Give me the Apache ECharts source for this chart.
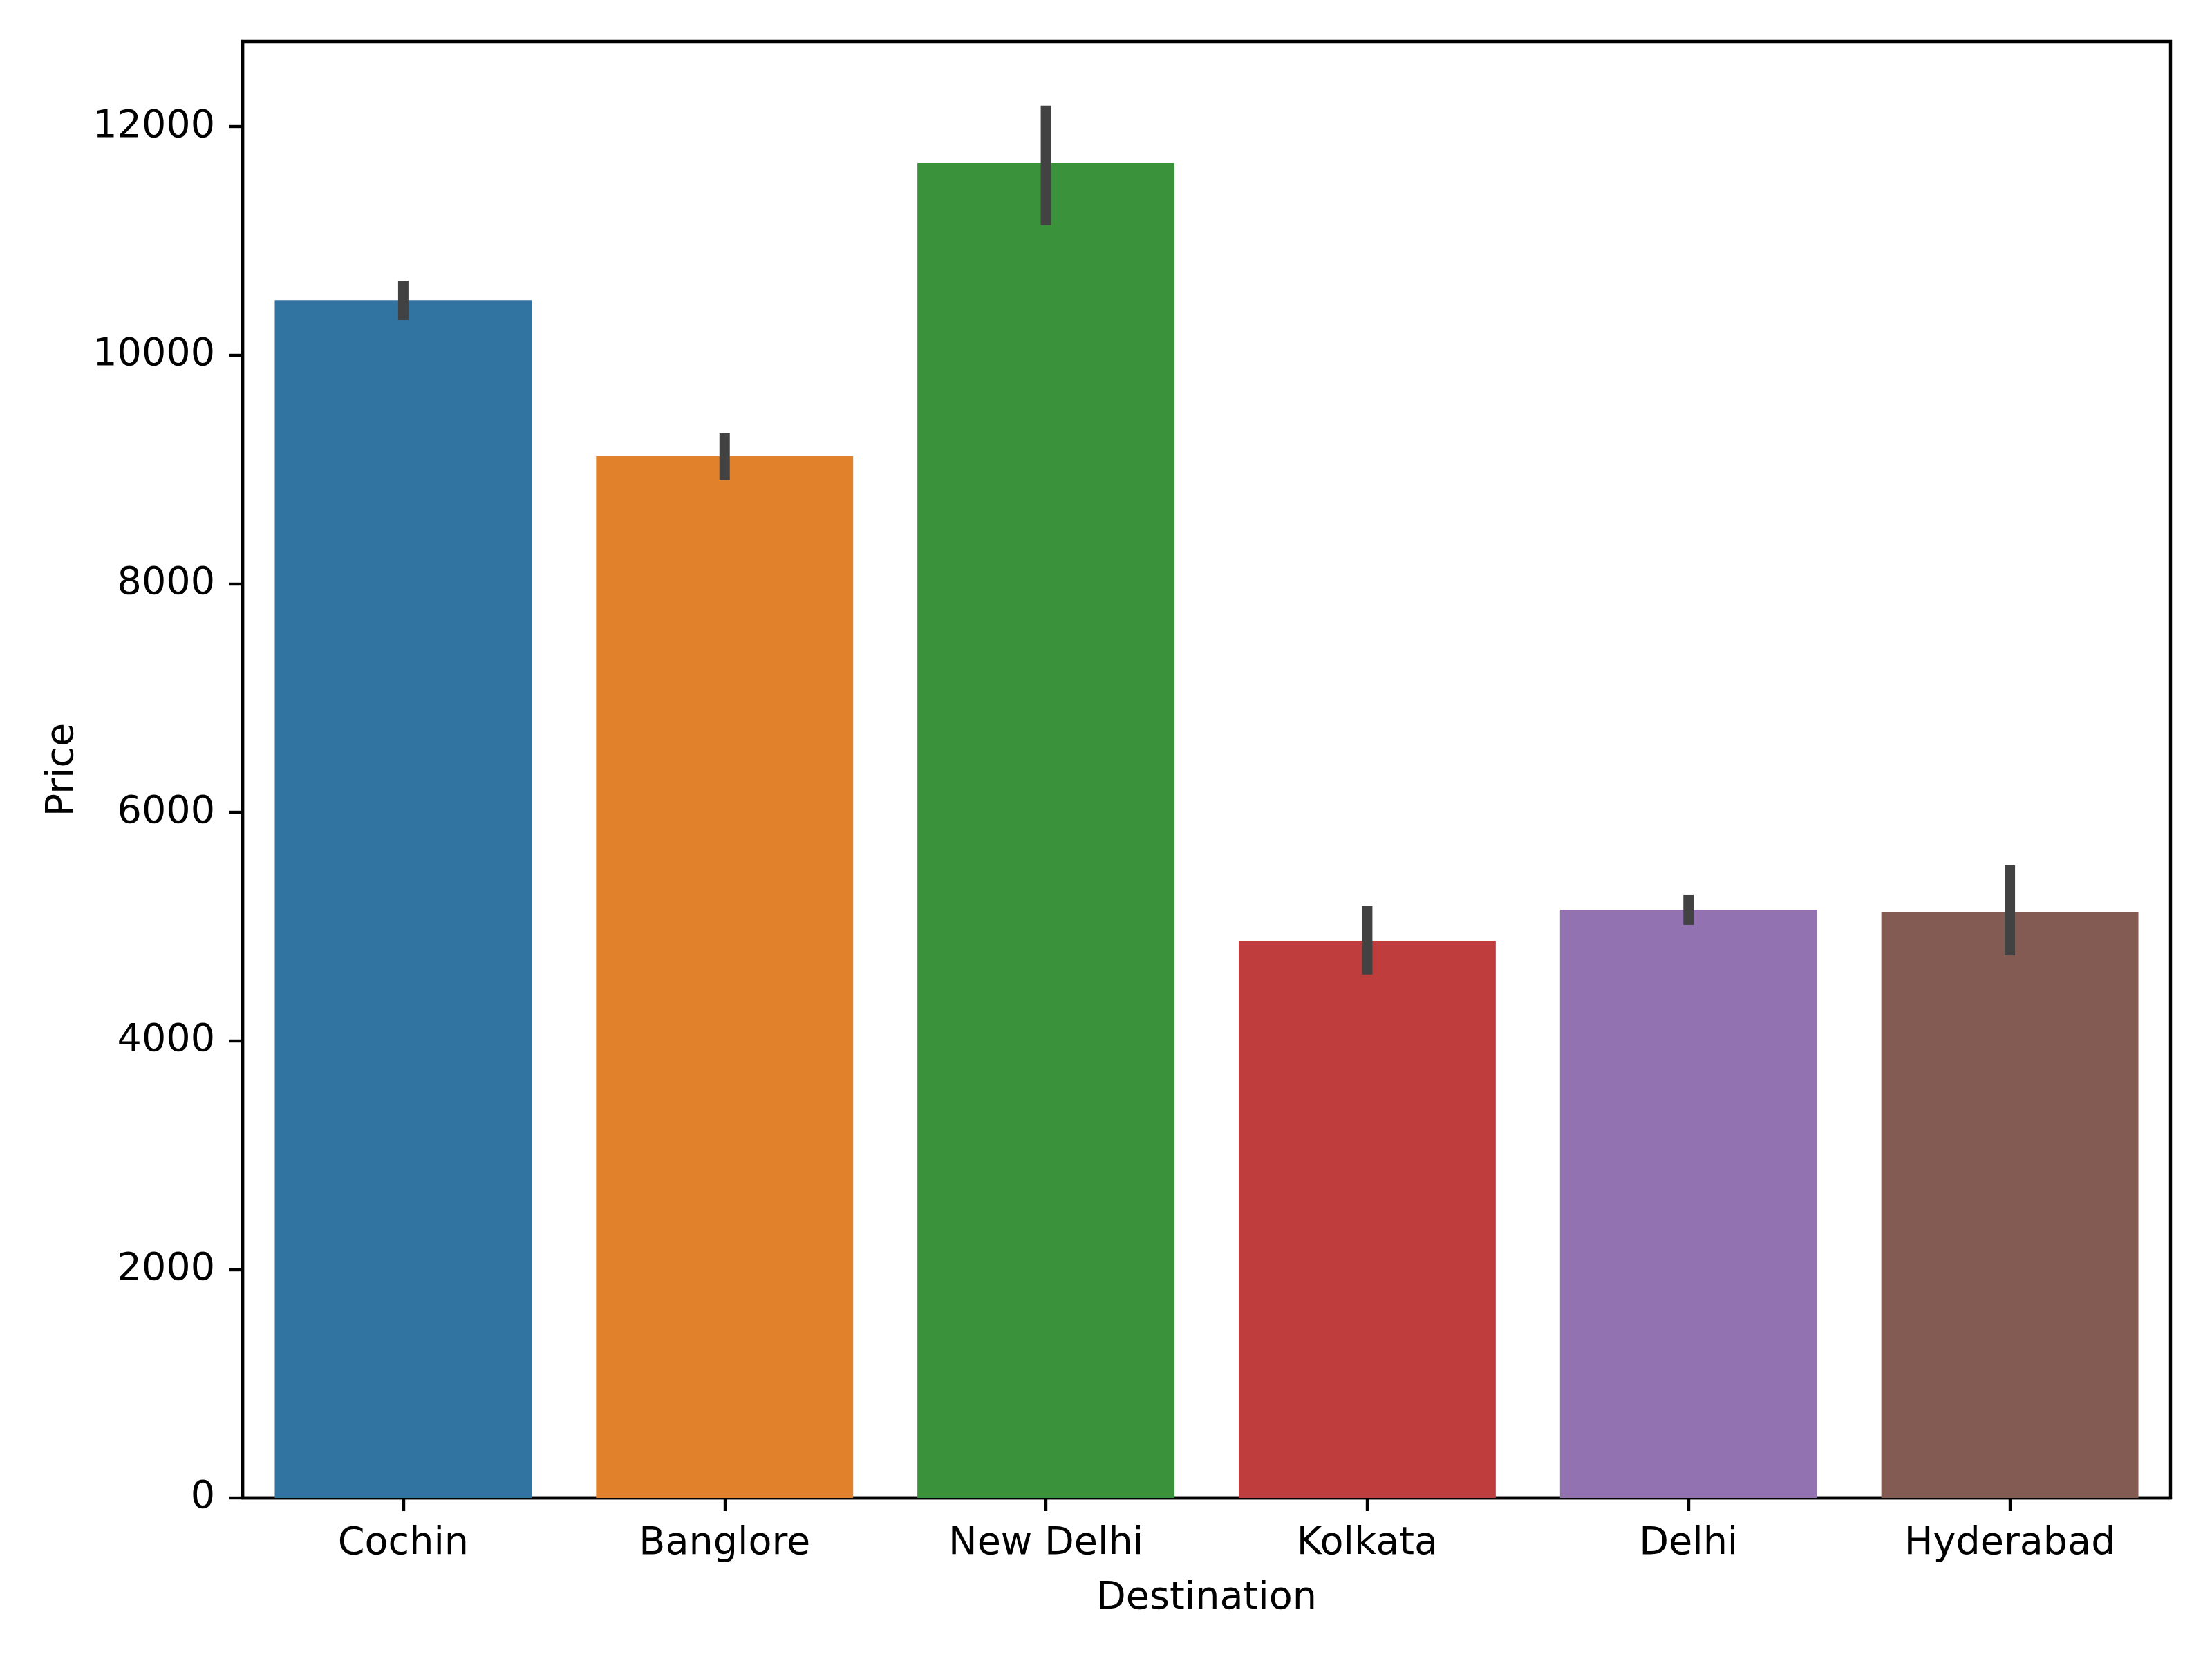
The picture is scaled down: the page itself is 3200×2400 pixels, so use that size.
<!DOCTYPE html>
<html><head><meta charset="utf-8">
<script src="https://cdn.jsdelivr.net/npm/echarts@6/dist/echarts.min.js"></script>
<style>html,body{margin:0;padding:0;background:#fff}#c{width:3200px;height:2400px}</style>
</head><body><div id="c"></div>
<script>
const categories = ['Cochin', 'Banglore', 'New Delhi', 'Kolkata', 'Delhi', 'Hyderabad'];
const prices = [10481, 9115, 11680, 4876, 5148, 5124];
const ciLow = [10307, 8904, 11137, 4580, 5015, 4748];
const ciHigh = [10652, 9315, 12184, 5178, 5275, 5535];
const barColors = ['#3274a1', '#e1812c', '#3a923a', '#c03d3e', '#9372b2', '#845b53'];
const yTicks = [0, 2000, 4000, 6000, 8000, 10000, 12000];

const FONT = 'DejaVu Sans';
const FS = 55.6;
const chart = echarts.init(document.getElementById('c'), null, {renderer: 'canvas'});
chart.setOption({
  animation: false,
  backgroundColor: '#fff',
  grid: {left: 351, right: 60, top: 60, bottom: 233, containLabel: false,
         show: true, borderColor: '#000', borderWidth: 4.4, backgroundColor: 'transparent'},
  xAxis: {
    type: 'category', data: categories,
    name: 'Destination', nameLocation: 'middle', nameGap: 118,
    nameTextStyle: {fontFamily: FONT, fontSize: FS, color: '#000'},
    axisLine: {show: true, lineStyle: {color: '#000', width: 4.4}},
    axisTick: {show: true, alignWithLabel: true, length: 19, lineStyle: {color: '#000', width: 4.4}},
    axisLabel: {fontFamily: FONT, fontSize: FS, color: '#000', margin: 39},
    splitLine: {show: false}
  },
  yAxis: {
    type: 'value', min: 0, max: 12745, interval: 2000,
    name: 'Price', nameLocation: 'middle', nameGap: 232, nameRotate: 90,
    nameTextStyle: {fontFamily: FONT, fontSize: FS, color: '#000'},
    axisLine: {show: true, lineStyle: {color: '#000', width: 4.4}},
    axisTick: {show: true, length: 19, customValues: yTicks, lineStyle: {color: '#000', width: 4.4}},
    axisLabel: {fontFamily: FONT, fontSize: FS, color: '#000', margin: 40, customValues: yTicks,
      formatter: v => yTicks.indexOf(v) >= 0 ? String(v) : ''},
    splitLine: {show: false}
  },
  series: [
    {
      type: 'bar', barWidth: '80%',
      data: prices.map((v, i) => ({value: v, itemStyle: {color: barColors[i]}}))
    },
    {
      type: 'custom', z: 10,
      data: categories.map((c, i) => [i, ciLow[i], ciHigh[i]]),
      renderItem: function (params, api) {
        const p1 = api.coord([api.value(0), api.value(1)]);
        const p2 = api.coord([api.value(0), api.value(2)]);
        return {type: 'line', shape: {x1: p1[0], y1: p1[1], x2: p2[0], y2: p2[1]},
                style: {stroke: '#424242', lineWidth: 15, lineCap: 'butt'}};
      }
    }
  ]
});
</script></body></html>
